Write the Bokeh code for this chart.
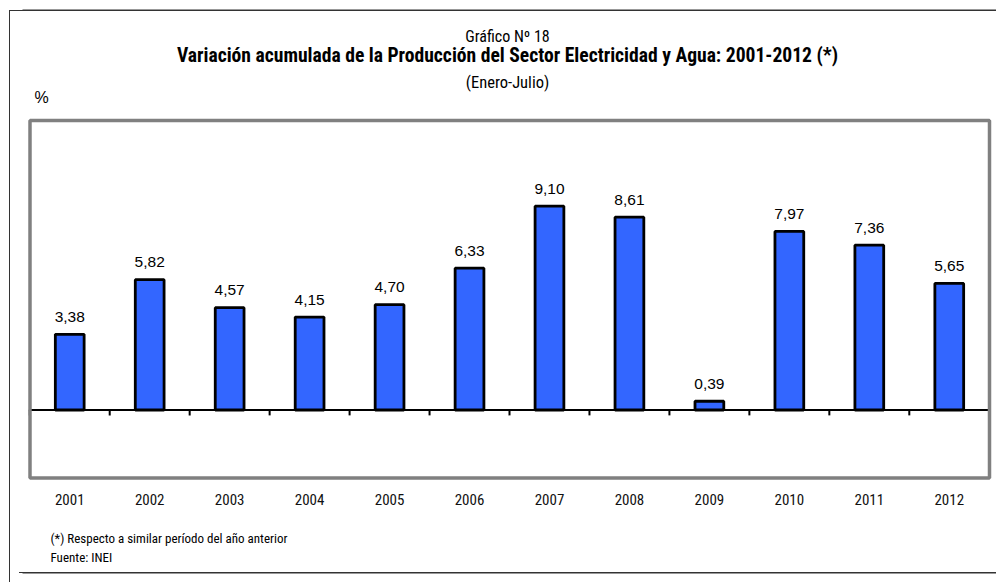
from bokeh.plotting import figure
from bokeh.models import ColumnDataSource, Range1d, FactorRange, Label, BoxAnnotation, InlineStyleSheet
from bokeh.core.properties import value
from bokeh.embed import file_html
from bokeh.resources import INLINE

years = ["2001", "2002", "2003", "2004", "2005", "2006",
         "2007", "2008", "2009", "2010", "2011", "2012"]
values = [3.38, 5.82, 4.57, 4.15, 4.70, 6.33, 9.10, 8.61, 0.39, 7.97, 7.36, 5.65]
value_labels = [f"{v:.2f}".replace(".", ",") for v in values]

title_top = "Gráfico Nº 18"
title_main = "Variación acumulada de la Producción del Sector Electricidad y Agua: 2001-2012 (*)"
title_sub = "(Enero-Julio)"
unit_label = "%"
note_1 = "(*) Respecto a similar período del año anterior"
note_2 = "Fuente: INEI"

REG = "Liberation Sans"
NARROW = "Roboto Condensed"

W, H = 996, 582
p = figure(width=W, height=H, output_backend="svg", toolbar_location=None,
           x_range=FactorRange(*years, range_padding=0.0907, range_padding_units="absolute"),
           y_range=Range1d(-7.70, 18.28),
           x_axis_location=None, y_axis_location=None,
           min_border_left=22, min_border_right=0, min_border_top=0, min_border_bottom=0)
p.grid.visible = False
p.background_fill_color = "white"
p.border_fill_color = "white"
p.outline_line_color = None

# outer frame lines of the page (left/top part outside the plot frame)
p.stylesheets = [InlineStyleSheet(css="""
:host { position: relative; }
:host::before { content: ""; position: absolute; left: 8.5px; top: 9.5px; right: 0; bottom: 0;
  border-left: 1.5px solid #333; border-top: 1.5px solid #333; pointer-events: none; z-index: 5; }
:host::after { content: ""; position: absolute; left: 19px; top: 571.5px; right: 0; height: 0;
  border-top: 1.5px solid #333; pointer-events: none; z-index: 5; }
""")]

def box(l, r, t, b, **kw):
    p.add_layout(BoxAnnotation(left=l, right=r, top=t, bottom=b,
                               left_units="screen", right_units="screen",
                               top_units="screen", bottom_units="screen", **kw))

# gray plot-area frame
box(7.5, 967, 462, 104.5, fill_alpha=0, line_color="#808080", line_alpha=1, line_width=3.5)

# outer frame lines (top and bottom)
box(-5, 1000, 573, 571.5, fill_color="#333333", fill_alpha=1, line_color=None)
box(-5, 1000, 10.5, 9, fill_color="#333333", fill_alpha=1, line_color=None)

src = ColumnDataSource(dict(x=years, top=values, lab=value_labels))

p.vbar(x="x", top="top", bottom=0, width=0.36, source=src,
       fill_color="#3366FF", line_color="black", line_width=2.8)

# zero line across the plot area
p.segment(x0=[(years[0], -0.5)], y0=[0], x1=[(years[-1], 0.5)], y1=[0],
          line_color="black", line_width=2, line_cap="round")

# small tick marks at category boundaries on the zero line
bx = [(y, -0.5) for y in years] + [(years[-1], 0.5)]
tsrc = ColumnDataSource(dict(x0=bx, y0=[0] * len(bx), y1=[-0.24] * len(bx)))
p.segment(x0="x0", y0="y0", x1="x0", y1="y1", source=tsrc, line_color="black", line_width=2)

# value labels
p.text(x="x", y="top", text="lab", source=src, text_align="center",
       text_baseline="alphabetic", y_offset=-17.5, text_font=value(REG),
       text_font_size="15.5px", text_color="black")

# year labels (category axis text under the plot area)
p.text(x=years, y=0, text=years, text_align="center", text_baseline="middle",
       y_offset=89, text_font=value(NARROW),
       text_font_size="15px", text_color="#111111")

def lab(x, y, text, font, size, style="normal", align="left"):
    p.add_layout(Label(x=x, y=y, x_units="screen", y_units="screen", text=text,
                       text_font=font, text_font_size=size, text_font_style=style,
                       text_align=align, text_baseline="alphabetic", text_color="black"))

lab(485, 546, title_top, NARROW, "16px", align="center")
lab(485, 527.5, title_main, NARROW, "19.6px", style="bold", align="center")
lab(485, 500.5, title_sub, NARROW, "16.5px", align="center")
lab(12, 485, unit_label, REG, "16px")
lab(28, 44, note_1, NARROW, "13px")
lab(28, 25, note_2, NARROW, "13px")

open("out.html", "w").write(file_html(p, INLINE))
